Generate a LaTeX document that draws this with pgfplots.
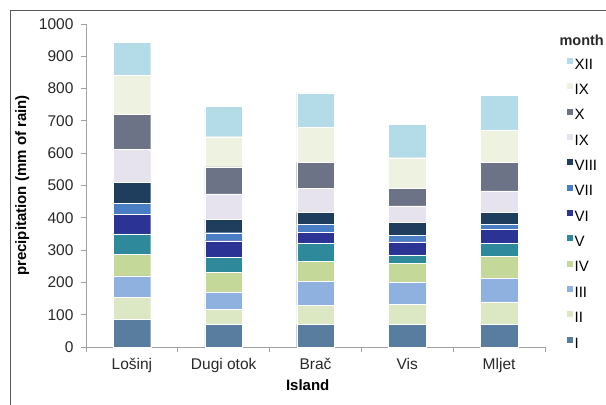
\documentclass[border=0pt]{standalone}
\usepackage{pgfplots}
\pgfplotsset{compat=1.18}
\usepackage{fontspec}
\setmainfont{Liberation Sans}

% month colours
\definecolor{cI}{RGB}{88,125,158}
\definecolor{cII}{RGB}{220,232,196}
\definecolor{cIII}{RGB}{143,177,224}
\definecolor{cIV}{RGB}{196,216,154}
\definecolor{cV}{RGB}{46,138,154}
\definecolor{cVI}{RGB}{43,52,148}
\definecolor{cVII}{RGB}{74,126,196}
\definecolor{cVIII}{RGB}{31,62,94}
\definecolor{cIXa}{RGB}{230,226,238}
\definecolor{cX}{RGB}{108,115,134}
\definecolor{cIXb}{RGB}{238,242,224}
\definecolor{cXII}{RGB}{179,220,232}
\definecolor{axgray}{RGB}{160,160,160}
\definecolor{txt}{RGB}{40,40,40}

\begin{document}
\begin{tikzpicture}
\useasboundingbox (0,0) rectangle (606bp,405bp);
\draw[line width=1.2bp, black!65] (10.5bp,0) -- (10.5bp,394.5bp) -- (606bp,394.5bp);
\begin{axis}[
    at={(86bp,58bp)}, anchor=south west,
    width=459bp, height=323bp, scale only axis, clip=false,
    ybar stacked, bar width=0.41,
    xmin=-0.5, xmax=4.5, ymin=0, ymax=1000,
    axis x line*=bottom, axis y line*=left,
    axis line style={axgray, line width=0.8bp},
    tick style={axgray, line width=0.8bp},
    major tick length=5bp, tick align=outside,
    xtick={-0.5,0.5,...,4.5},
    xticklabels={Lošinj, Dugi otok, Brač, Vis, Mljet},
    x tick label as interval,
    ytick={0,100,...,1000},
    /pgf/number format/assume math mode=true,
    /pgf/number format/1000 sep={},
    ticklabel style={font=\fontsize{15.5bp}{18bp}\selectfont, text=txt},
    yticklabel style={xshift=-4bp},
    xticklabel style={yshift=-3bp},
    xlabel={\textbf{Island}},
    ylabel={\textbf{precipitation (mm of rain)}},
    label style={font=\fontsize{15bp}{18bp}\selectfont},
    xlabel style={at={(rel axis cs:0.483,-0.118)}, anchor=center},
    ylabel style={at={(rel axis cs:-0.139,0.5)}, anchor=center},
    legend style={draw=none, fill=none, at={(rel axis cs:1.046,0.899)},
        anchor=north west, inner sep=0pt, row sep=12bp,
        font=\fontsize{15bp}{17bp}\selectfont,
        nodes={inner sep=1bp, text height=10bp, text depth=0pt}},
    legend cell align=left,
    reverse legend,
    legend image code/.code={\fill[#1] (0bp,0.2bp) rectangle (7bp,7.2bp);},
    every axis plot/.append style={draw=white, line width=0.3bp},
]
\addplot[fill=cI]    coordinates {(0,86) (1,71) (2,70) (3,71) (4,70)};
\addlegendentry{I}
\addplot[fill=cII]   coordinates {(0,67) (1,46) (2,60) (3,61) (4,70)};
\addlegendentry{II}
\addplot[fill=cIII]  coordinates {(0,67) (1,53) (2,73) (3,68) (4,73)};
\addlegendentry{III}
\addplot[fill=cIV]   coordinates {(0,67) (1,62) (2,63) (3,59) (4,67)};
\addlegendentry{IV}
\addplot[fill=cV]    coordinates {(0,63) (1,46) (2,55) (3,26) (4,41)};
\addlegendentry{V}
\addplot[fill=cVI]   coordinates {(0,61) (1,51) (2,34) (3,41) (4,43)};
\addlegendentry{VI}
\addplot[fill=cVII]  coordinates {(0,34) (1,25) (2,25) (3,19) (4,16)};
\addlegendentry{VII}
\addplot[fill=cVIII] coordinates {(0,65) (1,42) (2,37) (3,41) (4,37)};
\addlegendentry{VIII}
\addplot[fill=cIXa]  coordinates {(0,102) (1,78) (2,74) (3,51) (4,66)};
\addlegendentry{IX}
\addplot[fill=cX]    coordinates {(0,108) (1,84) (2,80) (3,54) (4,88)};
\addlegendentry{X}
\addplot[fill=cIXb]  coordinates {(0,122) (1,93) (2,109) (3,95) (4,101)};
\addlegendentry{IX}
\addplot[fill=cXII]  coordinates {(0,101) (1,95) (2,107) (3,103) (4,108)};
\addlegendentry{XII}
\node[anchor=west, font=\fontsize{14.5bp}{16bp}\selectfont\bfseries, text=txt]
    at (rel axis cs:1.024,0.950) {month};
\end{axis}
\end{tikzpicture}
\end{document}
